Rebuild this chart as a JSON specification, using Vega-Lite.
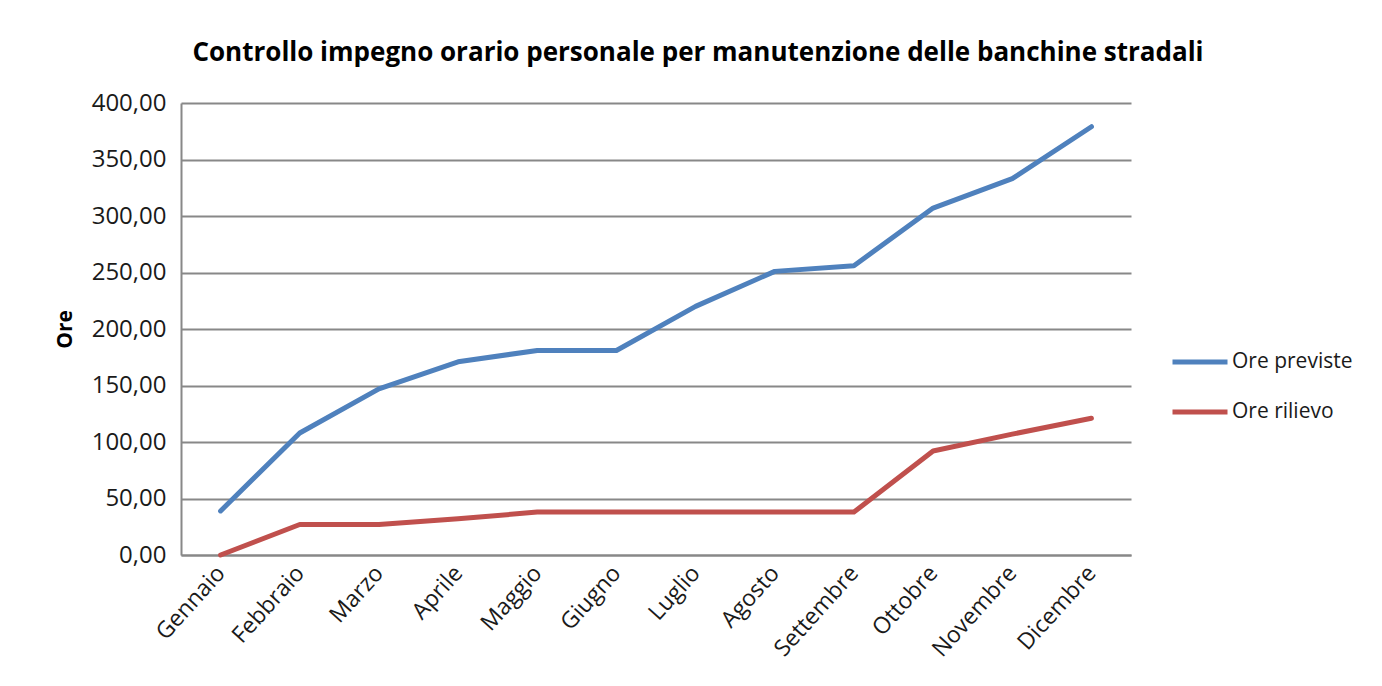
{
  "$schema": "https://vega.github.io/schema/vega-lite/v6.json",
  "width": 950,
  "height": 452,
  "autosize": {"type": "none"},
  "padding": {"left": 181, "top": 103, "right": 251, "bottom": 131},
  "background": "white",
  "title": {
    "text": "Controllo impegno orario personale per manutenzione delle banchine stradali",
    "font": "Open Sans",
    "fontSize": 26,
    "fontWeight": "bold",
    "color": "#000000",
    "anchor": "middle",
    "dx": 42,
    "offset": 25
  },
  "data": {
    "values": [
      {"mese": "Gennaio", "serie": "Ore previste", "ore": 39},
      {"mese": "Febbraio", "serie": "Ore previste", "ore": 108},
      {"mese": "Marzo", "serie": "Ore previste", "ore": 147},
      {"mese": "Aprile", "serie": "Ore previste", "ore": 171},
      {"mese": "Maggio", "serie": "Ore previste", "ore": 181},
      {"mese": "Giugno", "serie": "Ore previste", "ore": 181},
      {"mese": "Luglio", "serie": "Ore previste", "ore": 220},
      {"mese": "Agosto", "serie": "Ore previste", "ore": 251},
      {"mese": "Settembre", "serie": "Ore previste", "ore": 256},
      {"mese": "Ottobre", "serie": "Ore previste", "ore": 307},
      {"mese": "Novembre", "serie": "Ore previste", "ore": 333},
      {"mese": "Dicembre", "serie": "Ore previste", "ore": 379},
      {"mese": "Gennaio", "serie": "Ore rilievo", "ore": 0},
      {"mese": "Febbraio", "serie": "Ore rilievo", "ore": 27},
      {"mese": "Marzo", "serie": "Ore rilievo", "ore": 27},
      {"mese": "Aprile", "serie": "Ore rilievo", "ore": 32},
      {"mese": "Maggio", "serie": "Ore rilievo", "ore": 38},
      {"mese": "Giugno", "serie": "Ore rilievo", "ore": 38},
      {"mese": "Luglio", "serie": "Ore rilievo", "ore": 38},
      {"mese": "Agosto", "serie": "Ore rilievo", "ore": 38},
      {"mese": "Settembre", "serie": "Ore rilievo", "ore": 38},
      {"mese": "Ottobre", "serie": "Ore rilievo", "ore": 92},
      {"mese": "Novembre", "serie": "Ore rilievo", "ore": 107},
      {"mese": "Dicembre", "serie": "Ore rilievo", "ore": 121}
    ]
  },
  "mark": {"type": "line", "strokeWidth": 5, "strokeCap": "round", "strokeJoin": "round"},
  "encoding": {
    "x": {
      "field": "mese",
      "type": "ordinal",
      "sort": ["Gennaio", "Febbraio", "Marzo", "Aprile", "Maggio", "Giugno", "Luglio", "Agosto", "Settembre", "Ottobre", "Novembre", "Dicembre"],
      "scale": {"type": "point", "padding": 0.5},
      "axis": {
        "title": null,
        "labelAngle": -48,
        "labelAlign": "right",
        "labelBaseline": "middle",
        "labelFont": "Open Sans",
        "labelFontSize": 23,
        "labelColor": "#1a1a1a",
        "labelPadding": 14,
        "ticks": false,
        "grid": false,
        "domainColor": "#888888",
        "domainWidth": 2
      }
    },
    "y": {
      "field": "ore",
      "type": "quantitative",
      "scale": {"domain": [0, 400], "nice": false},
      "axis": {
        "title": "Ore",
        "titleFont": "Open Sans",
        "titleFontSize": 21,
        "titleFontWeight": "bold",
        "titleColor": "#000000",
        "titlePadding": 16,
        "values": [0, 50, 100, 150, 200, 250, 300, 350, 400],
        "labelExpr": "replace(format(datum.value, '.2f'), '.', ',')",
        "labelFont": "Open Sans",
        "labelFontSize": 24,
        "labelColor": "#1a1a1a",
        "labelPadding": 15,
        "ticks": false,
        "grid": true,
        "gridColor": "#888888",
        "gridWidth": 2,
        "domainColor": "#888888",
        "domainWidth": 2
      }
    },
    "color": {
      "field": "serie",
      "type": "nominal",
      "scale": {"domain": ["Ore previste", "Ore rilievo"], "range": ["#4F81BD", "#C0504D"]},
      "legend": {
        "title": null,
        "orient": "none",
        "legendX": 989,
        "legendY": 229,
        "symbolType": "stroke",
        "symbolSize": 3025,
        "symbolStrokeWidth": 5,
        "labelFont": "Open Sans",
        "labelFontSize": 21,
        "labelColor": "#1a1a1a",
        "labelOffset": 2,
        "rowPadding": 10
      }
    }
  },
  "config": {
    "view": {"stroke": null}
  }
}
